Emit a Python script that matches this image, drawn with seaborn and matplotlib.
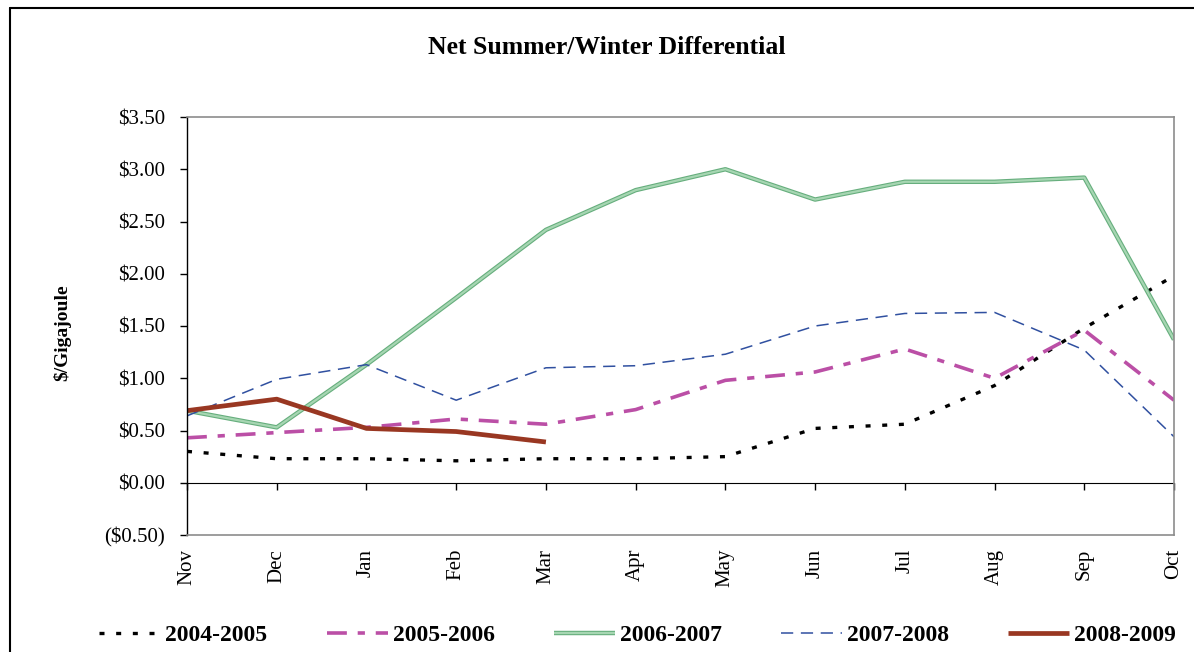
import matplotlib
matplotlib.use("Agg")
import matplotlib.pyplot as plt
import matplotlib.patheffects as pe
from matplotlib.lines import Line2D
from matplotlib.ticker import FuncFormatter, MultipleLocator
import numpy as np
import seaborn as sns

months = ["Nov", "Dec", "Jan", "Feb", "Mar", "Apr", "May", "Jun", "Jul", "Aug", "Sep", "Oct"]
s2004_2005 = [0.30, 0.23, 0.23, 0.21, 0.23, 0.23, 0.25, 0.52, 0.56, 0.93, 1.48, 1.98]
s2005_2006 = [0.43, 0.48, 0.53, 0.61, 0.56, 0.70, 0.98, 1.06, 1.28, 1.00, 1.46, 0.79]
s2006_2007 = [0.69, 0.53, 1.13, 1.77, 2.42, 2.80, 3.00, 2.71, 2.88, 2.88, 2.92, 1.37]
s2007_2008 = [0.64, 0.99, 1.13, 0.79, 1.10, 1.12, 1.23, 1.50, 1.62, 1.63, 1.27, 0.44]
s2008_2009 = [0.69, 0.80, 0.52, 0.49, 0.39]
series_names = ["2004-2005", "2005-2006", "2006-2007", "2007-2008", "2008-2009"]

sns.set_style("white")
plt.rcParams["font.family"] = ["Liberation Serif", "DejaVu Serif"]
plt.rcParams["text.color"] = "black"
plt.rcParams["xtick.color"] = "black"
plt.rcParams["ytick.color"] = "black"

fig = plt.figure(figsize=(11.94, 6.52), dpi=100)
ax = fig.add_axes([187 / 1194, 1 - 535 / 652, (1174 - 187) / 1194, (535 - 117) / 652])

sns.lineplot(x=np.arange(len(s2004_2005)), y=s2004_2005, ax=ax, color="black",
             linewidth=2.4, linestyle=(0, (1.5, 3.5)), label=series_names[0])
sns.lineplot(x=np.arange(len(s2005_2006)), y=s2005_2006, ax=ax, color="#bb4fa6",
             linewidth=2.6, linestyle=(0, (5.5, 3, 2, 3)), label=series_names[1])
sns.lineplot(x=np.arange(len(s2006_2007)), y=s2006_2007, ax=ax, color="#a6d6b2",
             linewidth=1.6, label=series_names[2],
             path_effects=[pe.Stroke(linewidth=3.2, foreground="#66ae7d"), pe.Normal()])
sns.lineplot(x=np.arange(len(s2007_2008)), y=s2007_2008, ax=ax, color="#3050a0",
             linewidth=1.1, linestyle=(0, (8, 5)), label=series_names[3])
sns.lineplot(x=np.arange(len(s2008_2009)), y=s2008_2009, ax=ax, color="#993722",
             linewidth=3.4, label=series_names[4])
for line in ax.get_lines():
    line.set_solid_capstyle("butt")
    line.set_dash_capstyle("butt")

ax.set_xlim(0, len(months) - 1)
ax.set_ylim(-0.5, 3.5)
ax.yaxis.set_major_locator(MultipleLocator(0.5))
ax.yaxis.set_major_formatter(FuncFormatter(
    lambda v, _: f"(${abs(v):.2f})" if v < 0 else f"${v:.2f}"))
ax.set_xticks(range(len(months)))
ax.set_xticklabels(months, rotation=90)
ax.tick_params(axis="x", length=0, pad=10, labelsize=15)
ax.tick_params(axis="y", direction="out", length=5, width=1, pad=11, labelsize=15,
               left=True, color="black")
ax.set_xlabel("")
ax.set_ylabel("")
for side in ["top", "right", "bottom"]:
    ax.spines[side].set_color("#8c8c8c")
    ax.spines[side].set_linewidth(1.2)
ax.spines["left"].set_color("black")
ax.spines["left"].set_linewidth(1)
ax.grid(False)
ax.get_legend().remove()

# category axis crossing at $0.00
zero_axis = ax.secondary_xaxis(0.5 / 4.0)
zero_axis.set_xticks(range(len(months)))
zero_axis.tick_params(direction="out", length=5, width=1, labelbottom=False, color="black")
zero_axis.spines["bottom"].set_color("black")

fig.text(607 / 1194, 1 - 47 / 652, "Net Summer/Winter Differential",
         ha="center", va="center", fontsize=18.5, fontweight="bold")
fig.text(62 / 1194, 1 - 333 / 652, "$/Gigajoule", rotation=90,
         ha="center", va="center", fontsize=14, fontweight="bold")

handles, labels = ax.get_legend_handles_labels()
fig.legend(handles, labels, loc="center", bbox_to_anchor=(0.534, 1 - 635 / 652),
           ncol=5, frameon=False, prop={"weight": "bold", "size": 17},
           handlelength=2.6, handletextpad=0.2, columnspacing=2.5, borderpad=0)

# outer chart border
fig.add_artist(Line2D([10 / 1194, 10 / 1194], [0, 1 - 8 / 652], color="black", lw=1.5))
fig.add_artist(Line2D([10 / 1194, 1], [1 - 8 / 652, 1 - 8 / 652], color="black", lw=1.5))

fig.savefig("out.png", dpi=100)
plt.close(fig)
